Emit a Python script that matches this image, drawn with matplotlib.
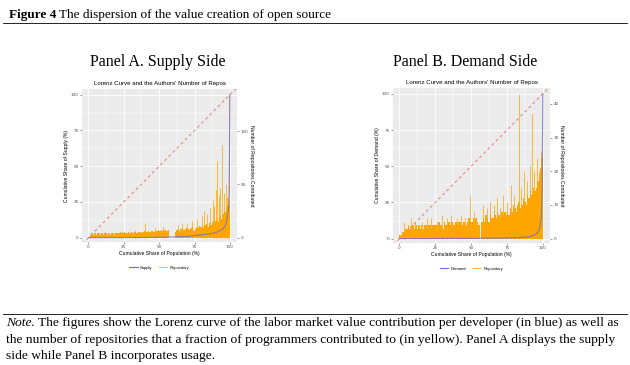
import numpy as np
import matplotlib; matplotlib.use("Agg"); import matplotlib.pyplot as plt
from matplotlib.lines import Line2D

SANS = "Liberation Sans"; SERIF = "Liberation Serif"
ORANGE = "#FFA500"; BLUE = "#6B6BD6"; RED = "#E8787A"

# Lorenz curves (cumulative share, %)
pop_a = [0, 40, 60, 70, 80, 90, 95, 97, 98, 99, 99.5, 100]
supply = [0, 0.1, 0.5, 1, 2, 3.5, 6, 9, 13, 20, 35, 100]
pop_b = [0, 50, 80, 90, 95, 97, 98, 99, 99.5, 100]
demand = [0, 0.2, 0.5, 1.2, 3, 5, 8, 15, 30, 100]

# number of repositories per population bin (1% bins)
repo_a = [1, 3, 4, 3, 4, 3, 4, 4, 3, 4,
          3, 4, 4, 3, 4, 3, 4, 4, 3, 4,
          4, 4, 5, 4, 4, 5, 4, 4, 5, 4,
          5, 4, 5, 5, 4, 5, 5, 4, 5, 6,
          5, 5, 6, 5, 6, 6, 5, 6, 6, 7,
          6, 7, 6, 7, 7, 6, 7, 0, 0, 0,
          0, 5, 7, 8, 6, 8, 9, 7, 8, 9,
          8, 7, 9, 10, 6, 8, 10, 9, 11, 10,
          11, 9, 12, 13, 10, 14, 12, 15, 13, 16,
          17, 15, 19, 21, 18, 22, 24, 26, 30, 35]
spike_a_x = [5, 12, 24, 33, 40, 47, 53, 63, 66, 70, 73, 77, 80, 82, 84, 86, 88, 89,
             90, 91, 92, 93, 94.5, 95.5, 97, 98, 99.3]
spike_a_h = [5, 6, 6, 7, 14, 9, 10, 12, 14, 13, 16, 18, 20, 25, 22, 28, 35, 30,
             45, 72, 40, 47, 87, 42, 50, 38, 134]

repo_b = [1, 1, 2, 2, 3, 3, 4, 3, 3, 4,
          3, 4, 3, 4, 3, 4, 3, 4, 4, 3,
          4, 4, 3, 4, 4, 4, 3, 5, 4, 4,
          3, 5, 4, 4, 5, 4, 5, 4, 4, 5,
          4, 5, 5, 4, 5, 5, 4, 5, 6, 5,
          5, 6, 5, 6, 5, 4, 0, 5, 6, 5,
          7, 6, 5, 7, 6, 6, 7, 6, 8, 7,
          6, 8, 7, 8, 7, 8, 7, 9, 8, 10,
          9, 8, 10, 11, 9, 10, 12, 11, 10, 13,
          12, 14, 13, 15, 14, 15, 17, 19, 21, 24]
spike_b_x = [3, 8, 11, 16, 19, 22, 26, 30, 33, 36, 40, 43, 46, 49, 52, 58, 61, 63, 66,
             68, 70, 72, 75, 78, 80, 83.5, 85, 87, 89, 91, 92.5, 94, 96, 97.5, 99]
spike_b_h = [5, 6, 5, 5, 6, 6, 5, 7, 6, 7, 6, 7, 6, 13, 8, 10, 9, 11, 10,
             12, 9, 13, 11, 16, 13, 43, 15, 20, 17, 22, 37, 20, 24, 20, 26]

W, H = 630, 365
fig = plt.figure(figsize=(W / 100, H / 100), dpi=100)
rend = fig.canvas.get_renderer()


def panel(rect, pop, lor, repo, sx, sh, rmax, rticks, ylab, leg):
    ax = fig.add_axes(rect)
    ax.set_facecolor("#EBEBEB")
    for s in ax.spines.values(): s.set_visible(False)
    ax.set_xlim(-4.5, 105); ax.set_ylim(-3, 104)
    ax.set_xticks([0, 25, 50, 75, 100]); ax.set_yticks([0, 25, 50, 75, 100])
    ax.set_xticks([12.5, 37.5, 62.5, 87.5], minor=True)
    ax.set_yticks([12.5, 37.5, 62.5, 87.5], minor=True)
    ax.grid(True, which="major", color="white", lw=0.6)
    ax.grid(True, which="minor", color="white", lw=0.3)
    ax.set_axisbelow(True)
    ax.tick_params(which="major", labelsize=3, colors="#4D4D4D", length=1.5, width=0.4, pad=1)
    ax.tick_params(which="minor", length=0)
    ax.set_xlabel("Cumulative Share of Population (%)", fontsize=3.6, family=SANS, labelpad=1)
    ax.set_ylabel(ylab, fontsize=3.6, family=SANS, labelpad=1)
    ax.set_title("Lorenz Curve and the Authors' Number of Repos", fontsize=4.4, family=SANS, pad=3)
    ax.plot([-10, 110], [-10, 110], ls=(0, (3, 3)), color=RED, lw=0.7)

    ax2 = ax.twinx()
    for s in ax2.spines.values(): s.set_visible(False)
    ax2.set_ylim(-3 * rmax / 100, 104 * rmax / 100)
    ax2.set_yticks(rticks)
    ax2.tick_params(labelsize=3, colors="#4D4D4D", length=1.5, width=0.4, pad=1)
    ax2.set_ylabel("Number of Repositories Contributed", fontsize=3.6, family=SANS,
                   rotation=270, labelpad=4)
    bins = np.arange(len(repo)) + 0.5
    ax2.bar(bins, repo, width=1.0, color=ORANGE, lw=0)
    ax2.vlines(sx, 0, sh, color=ORANGE, lw=0.7, alpha=0.75)
    ax2.plot(pop, lor, color=BLUE, lw=0.8, alpha=0.8, transform=ax.transData)

    handles = [Line2D([], [], color=BLUE, lw=0.8), Line2D([], [], color=ORANGE, lw=0.8, alpha=0.7)]
    ax.legend(handles, leg, loc="upper center", bbox_to_anchor=(0.5, -0.13), ncol=2,
              frameon=False, prop={"family": SANS, "size": 3}, handlelength=2,
              columnspacing=1.5, handletextpad=0.6)
    return ax


panel([82 / W, 1 - 242 / H, 155 / W, 153 / H], pop_a, supply, repo_a, spike_a_x, spike_a_h,
      134, [0, 50, 100], "Cumulative Share of Supply (%)", ["Supply", "Repository"])
panel([393 / W, 1 - 243 / H, 157 / W, 155 / H], pop_b, demand, repo_b, spike_b_x, spike_b_h,
      43, [0, 10, 20, 30, 40], "Cumulative Share of Demand (%)", ["Demand", "Repository"])


def after(t, gap):
    # x (figure fraction) just right of a text, plus a gap in pixels
    return (t.get_window_extent(rend).x1 + gap) / W


# headings and note
t = fig.text(9 / W, 1 - 18 / H, "Figure 4", family=SERIF, weight="bold", fontsize=9.5)
fig.text(after(t, 3), 1 - 18 / H, "The dispersion of the value creation of open source",
         family=SERIF, fontsize=9.5)
fig.add_artist(Line2D([3 / W, 627 / W], [1 - 23 / H] * 2, color="black", lw=0.6))
fig.text(158 / W, 1 - 66 / H, "Panel A. Supply Side", family=SERIF, fontsize=11.5, ha="center")
fig.text(465 / W, 1 - 66 / H, "Panel B. Demand Side", family=SERIF, fontsize=11.5, ha="center")
fig.add_artist(Line2D([3 / W, 627 / W], [1 - 314 / H] * 2, color="black", lw=0.6))
NS = 9.7
t = fig.text(6 / W, 1 - 326 / H, "Note.", family=SERIF, style="italic", fontsize=NS)
fig.text(after(t, 3), 1 - 326 / H, "The figures show the Lorenz curve of the labor market value "
         "contribution per developer (in blue) as well as", family=SERIF, fontsize=NS)
fig.text(6 / W, 1 - 343 / H, "the number of repositories that a fraction of programmers "
         "contributed to (in yellow). Panel A displays the supply", family=SERIF, fontsize=NS)
fig.text(6 / W, 1 - 359 / H, "side while Panel B incorporates usage.", family=SERIF, fontsize=NS)

fig.savefig("out.png", dpi=100)
